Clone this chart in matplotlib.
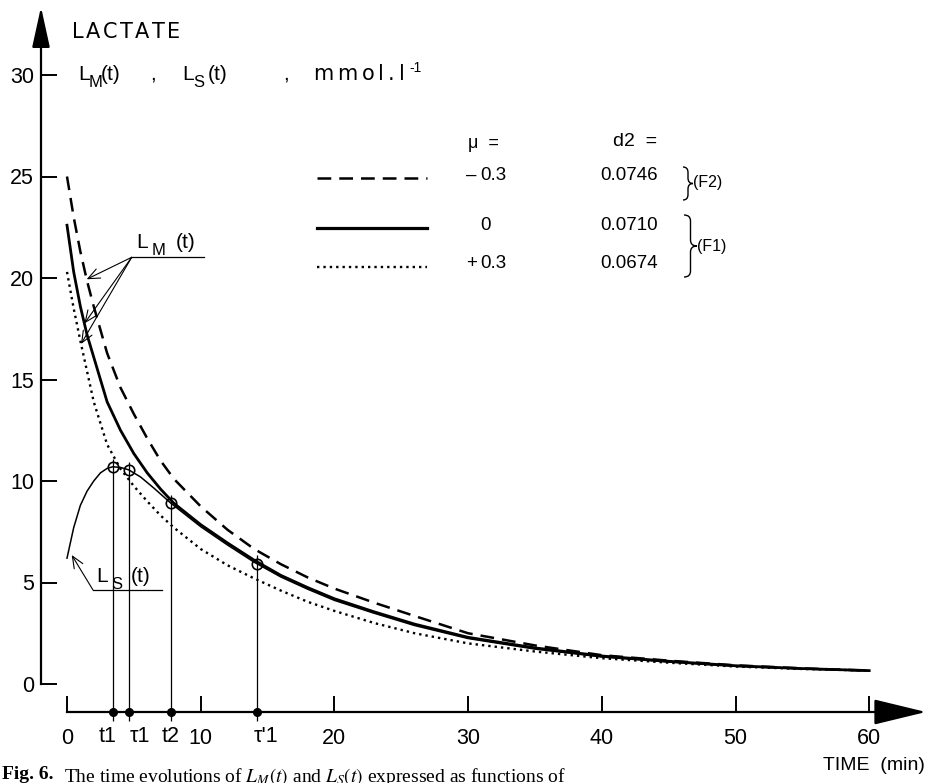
import matplotlib
matplotlib.use("Agg")
import matplotlib.pyplot as plt
import matplotlib.transforms as mtransforms
from matplotlib.path import Path
from matplotlib.patches import PathPatch
import numpy as np

plt.rcParams['font.family'] = ['Liberation Sans', 'DejaVu Sans']
plt.rcParams['mathtext.fontset'] = 'stix'

# L_M(t) for the three values of mu (mmol/l)
time_m = [0, 0.5, 1, 1.5, 2, 3, 4, 5, 6, 7, 8, 10, 12, 14, 16, 18, 20, 23, 26, 30, 35, 40, 45, 50, 55, 60]
lm_minus = [25.0, 23.0, 21.3, 19.85, 18.6, 16.3, 14.6, 13.3, 12.1, 11.0, 10.1, 8.75, 7.6, 6.65, 5.9, 5.25,
            4.7, 4.0, 3.35, 2.5, 1.9, 1.42, 1.15, 0.92, 0.77, 0.66]
lm_zero = [22.6, 20.3, 18.6, 17.2, 16.1, 13.9, 12.5, 11.35, 10.4, 9.6, 8.9, 7.85, 6.95, 6.1, 5.35, 4.75,
           4.2, 3.55, 2.95, 2.3, 1.78, 1.38, 1.12, 0.9, 0.76, 0.66]
lm_plus = [20.3, 18.5, 16.9, 15.4, 13.9, 11.8, 10.6, 9.75, 9.0, 8.3, 7.7, 6.65, 5.85, 5.2, 4.6, 4.05,
           3.6, 3.0, 2.5, 2.0, 1.6, 1.27, 1.05, 0.86, 0.74, 0.66]

# L_S(t)
time_s = [0, 0.5, 1, 1.5, 2, 2.5, 3, 3.42, 4, 4.61, 5.5, 6.5, 7.78, 10, 12, 14, 16, 18, 20, 23, 26, 30,
          35, 40, 45, 50, 55, 60]
ls_vals = [6.2, 7.7, 8.8, 9.5, 10.0, 10.4, 10.62, 10.7, 10.67, 10.55, 10.2, 9.65, 8.9, 7.75, 6.85, 6.0,
           5.27, 4.67, 4.12, 3.48, 2.88, 2.24, 1.72, 1.33, 1.08, 0.87, 0.74, 0.65]

mark_times = [3.42, 4.61, 7.78, 14.19]
mark_labels = ['t1', 'τ1', 't2', "τ'1"]
x_ticks = [0, 10, 20, 30, 40, 50, 60]
y_ticks = [0, 5, 10, 15, 20, 25, 30]
mu_values = [-0.3, 0, 0.3]
d2_values = ['0.0746', '0.0710', '0.0674']

# pixel layout of the scanned figure
W, H = 927, 783
X0, XS = 67, 13.37   # pixel of t=0, pixels per minute
Y0, YS = 684, 20.3   # pixel of L=0, pixels per mmol/l

fig = plt.figure(figsize=(W / 100, H / 100), dpi=100)
ax = fig.add_axes([0, 0, 1, 1])
ax.set_xlim(-X0 / XS, (W - X0) / XS)
ax.set_ylim((Y0 - H) / YS, Y0 / YS)
pix = mtransforms.Affine2D().scale(1 / W, -1 / H).translate(0, 1) + fig.transFigure
xdata_ypix = mtransforms.blended_transform_factory(ax.transData, pix)

ax_x = (41 - X0) / XS    # vertical axis position (min)
ax_y = (Y0 - 712) / YS   # horizontal axis position (mmol/l)

# axes as spines
for s in ['top', 'right']:
    ax.spines[s].set_visible(False)
ax.spines['left'].set_position(('data', ax_x))
ax.spines['left'].set_bounds(0, 31.8)
ax.spines['bottom'].set_position(('data', ax_y))
ax.spines['bottom'].set_bounds(0, 61)
for s in ['left', 'bottom']:
    ax.spines[s].set_linewidth(1.6)
ax.set_xticks(x_ticks)
ax.set_yticks(y_ticks)
ax.tick_params(axis='both', direction='in', length=11.5, width=1.4, labelsize=15.5)
ax.tick_params(axis='y', pad=5)
ax.tick_params(axis='x', pad=11.5)

ax.annotate('', xy=(ax_x, 33.35), xytext=(ax_x, 31.5),
            arrowprops=dict(arrowstyle='-|>,head_length=2.5,head_width=0.55', mutation_scale=10,
                            color='black', lw=1.6, shrinkA=0, shrinkB=0))
ax.annotate('', xy=(64.25, ax_y), xytext=(60.8, ax_y),
            arrowprops=dict(arrowstyle='-|>,head_length=3.3,head_width=0.8', mutation_scale=10,
                            color='black', lw=1.6, shrinkA=0, shrinkB=0))

# curves
DASH = (0, (5.5, 3.2))
DOT = (0, (1, 1.7))
ax.plot(time_m, lm_minus, color='black', lw=1.8, linestyle=DASH)
ax.plot(time_m, lm_zero, color='black', lw=2.0)
ax.plot(time_m, lm_plus, color='black', lw=1.7, linestyle=DOT)
ax.plot(time_s, ls_vals, color='black', lw=1.1)

mark_vals = np.interp(mark_times, time_s, ls_vals)
ax.vlines(mark_times, ax_y - 0.45, mark_vals + 0.4, color='black', lw=0.9)
ax.plot(mark_times, mark_vals, 'o', ms=7.5, mfc='none', mec='black', mew=1.2)
ax.plot(mark_times, [ax_y] * len(mark_times), 'o', ms=5.5, color='black', clip_on=False)

# labels of the marked times, nudged apart as in the original
mark_align = [('right', 0.25), ('left', 0.05), ('center', 0.0), ('left', -0.25)]
for t, lab, (ha, dx) in zip(mark_times, mark_labels, mark_align):
    ax.text(t + dx, 737, lab, fontsize=15.5, ha=ha, va='center', transform=xdata_ypix)


def txt(x, y, s, size, **kw):
    return ax.text(x, y, s, fontsize=size, transform=pix, **kw)


def tracked(x, y, s, size, gap, **kw):
    r = fig.canvas.get_renderer()
    for ch in s:
        t = txt(x, y, ch, size, va='baseline', **kw)
        x += t.get_window_extent(r).width + gap
    return x


def l_label(xs, y, sub, size):
    txt(xs[0], y, 'L', size, va='baseline')
    txt(xs[1], y + 7, sub, size * 0.8, va='baseline')
    txt(xs[2], y, '(t)', size, va='baseline')


def brace(x, y0, y1, w):
    ym = (y0 + y1) / 2
    r = min(6, (y1 - y0) / 6)
    verts = [(x, y0), (x + w / 2, y0), (x + w / 2, y0 + r), (x + w / 2, ym - r),
             (x + w / 2, ym), (x + w, ym), (x + w / 2, ym), (x + w / 2, ym + r),
             (x + w / 2, y1 - r), (x + w / 2, y1), (x, y1)]
    codes = [Path.MOVETO, Path.CURVE3, Path.CURVE3, Path.LINETO, Path.CURVE3, Path.CURVE3,
             Path.CURVE3, Path.CURVE3, Path.LINETO, Path.CURVE3, Path.CURVE3]
    ax.add_patch(PathPatch(Path(verts, codes), fill=False, lw=1.0, color='black', transform=pix))


# y axis title
tracked(72, 38, 'LACTATE', 15, 2.5, family='DejaVu Sans')
l_label((78, 89, 101), 80, 'M', 15)
txt(150, 80, ',', 15, va='baseline')
l_label((182, 193, 208), 80, 'S', 15)
txt(283, 80, ',', 15, va='baseline')
xe = tracked(313, 80, 'mmol.l', 15, 4, family='DejaVu Sans')
txt(xe + 1, 72, '-1', 10, va='baseline')

# legend table
txt(468, 143, 'μ  =', 13, va='center')
txt(613, 141, 'd2  =', 14, va='center')
leg_rows = [178, 228, 267]
leg_styles = [dict(lw=1.8, linestyle=DASH), dict(lw=2.3), dict(lw=1.7, linestyle=DOT)]
for yy, st, mu, d2 in zip(leg_rows, leg_styles, mu_values, d2_values):
    ax.plot([317, 427], [yy, yy], color='black', transform=pix, **st)
    sign = '–' if mu < 0 else ('+' if mu > 0 else '')
    txt(466, yy - 3, sign, 13.5, va='center')
    txt(480, yy - 3, f'{abs(mu):g}', 13.5, va='center')
    txt(600, yy - 3, d2, 13.5, va='center')
brace(683, 167, 200, 10)
txt(693, 183, '(F2)', 11.5, va='center')
brace(684, 215, 277, 13)
txt(697, 246, '(F1)', 11.5, va='center')

# curve labels
l_label((136, 152, 176), 248, 'M', 15)
ax.plot([131.7, 204], [257.3, 257.3], color='black', lw=0.9, transform=pix)
for t_arrow, curve in [(1.47, lm_minus), (1.3, lm_zero), (1.05, lm_plus)]:
    ax.annotate('', xy=(t_arrow, np.interp(t_arrow, time_m, curve)), xytext=(131.7, 257.3),
                textcoords=pix,
                arrowprops=dict(arrowstyle='->,head_length=0.7,head_width=0.3', mutation_scale=12,
                                color='black', lw=0.8, shrinkA=0, shrinkB=0))

l_label((96, 111, 131), 582, 'S', 15)
ax.plot([93, 162], [590, 590], color='black', lw=0.9, transform=pix)
ax.annotate('', xy=(71.7, 555), xycoords=pix, xytext=(93, 590), textcoords=pix,
            arrowprops=dict(arrowstyle='->,head_length=0.7,head_width=0.3', mutation_scale=12,
                            color='black', lw=0.8, shrinkA=0, shrinkB=0))

txt(925, 765, 'TIME  (min)', 14, ha='right', va='center')

# caption (cut by the page edge)
serif = ['Liberation Serif', 'DejaVu Serif']
txt(2, 766, 'Fig. 6.', 14, va='top', family=serif, weight='bold')
txt(64, 766, 'The time evolutions of $L_M(t)$ and $L_S(t)$ expressed as functions of',
    14, va='top', family=serif)

fig.savefig('out.png', dpi=100)
